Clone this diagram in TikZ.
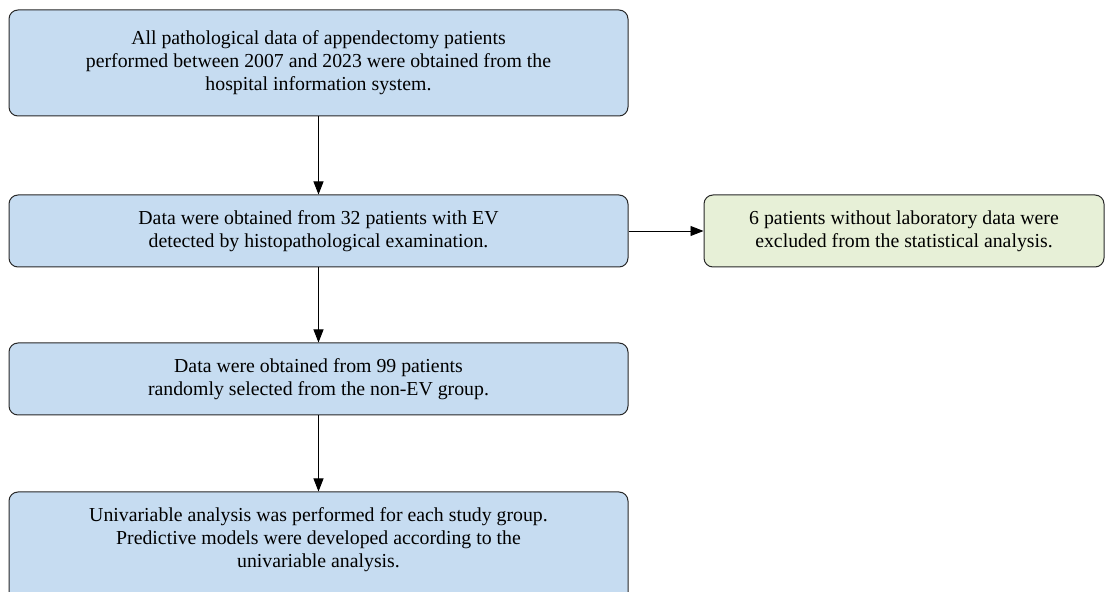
\documentclass[tikz,border=0pt]{standalone}
\usepackage{fontspec}
\setmainfont{Liberation Serif}
\usetikzlibrary{arrows.meta}
\definecolor{boxblue}{RGB}{198,220,241}
\definecolor{boxgreen}{RGB}{231,240,215}
\definecolor{edgegray}{RGB}{40,40,40}
\begin{document}
\begin{tikzpicture}[x=1pt,y=1pt,
  flowbox/.style={draw=edgegray, line width=1pt, rounded corners=9pt, fill=boxblue, align=center,
    font=\fontsize{19.8}{23}\selectfont, text=black, inner sep=0pt},
  sidebox/.style={flowbox, fill=boxgreen},
  conn/.style={draw=black, line width=0.9pt, -{Triangle[length=13pt,width=10pt]}}]
\useasboundingbox (0,0) rectangle (1112,592);
\clip (0,0) rectangle (1112,592);
\node[flowbox, minimum width=619pt, minimum height=106pt] (b1) at (318.5,529)
  {All pathological data of appendectomy patients\\performed between 2007 and 2023 were obtained from the\\hospital information system.};
\node[flowbox, minimum width=619pt, minimum height=72pt] (b2) at (318.5,361)
  {Data were obtained from 32 patients with EV\\detected by histopathological examination.};
\node[flowbox, minimum width=619pt, minimum height=72pt] (b3) at (318.5,213)
  {Data were obtained from 99 patients\\randomly selected from the non-EV group.};
\node[flowbox, minimum width=619pt, minimum height=112pt] (b4) at (318.5,44)
  {\rule{0pt}{0pt}};
\node[align=center, font=\fontsize{19.8}{23}\selectfont] (t4) at (318.5,52)
  {Univariable analysis was performed for each study group.\\Predictive models were developed according to the\\univariable analysis.};
\node[sidebox, minimum width=400pt, minimum height=72pt] (g1) at (904,361)
  {6 patients without laboratory data were\\excluded from the statistical analysis.};
\draw[conn] (b1) -- (b2);
\draw[conn] (b2) -- (b3);
\draw[conn] (b3) -- (b4);
\draw[conn] (b2) -- (g1);
\end{tikzpicture}
\end{document}
